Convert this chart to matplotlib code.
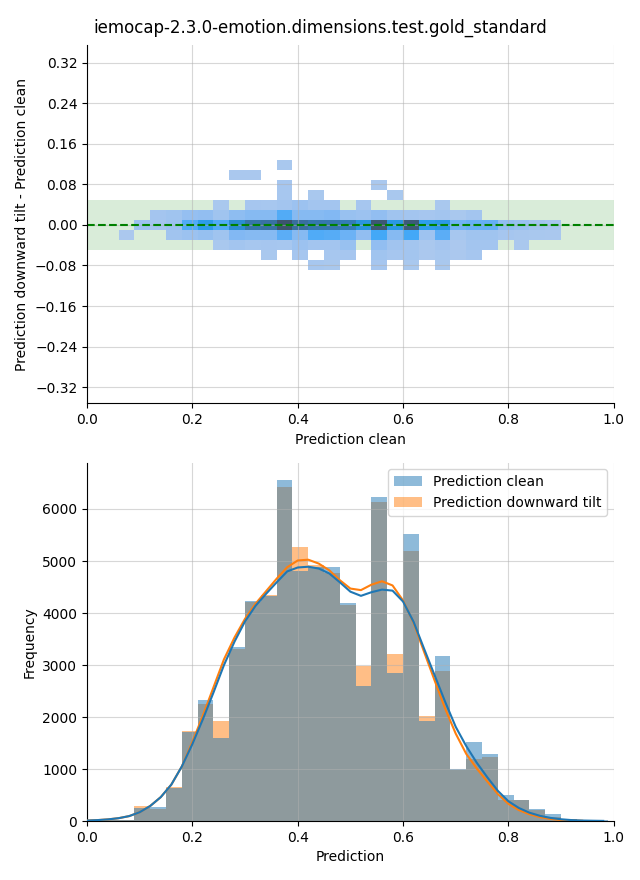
import numpy as np
import pandas as pd
import matplotlib
matplotlib.use('Agg')
import matplotlib.pyplot as plt
import seaborn as sns

title = 'iemocap-2.3.0-emotion.dimensions.test.gold_standard'
series = ['Prediction clean', 'Prediction downward tilt']

# prediction bins, 0.03 wide from 0 to 0.99
pred_edges = np.round(np.arange(34) * 0.03, 4)

# counts per prediction bin
clean_counts = [15, 15, 20, 244, 263, 630, 1709, 2332, 1600, 3347, 4233, 4330,
                6565, 4799, 4882, 4889, 4195, 2595, 6238, 2846, 5525, 1927,
                3173, 1000, 1516, 1285, 500, 410, 225, 141, 35, 25, 15]
tilt_counts = [15, 15, 20, 283, 225, 649, 1728, 2248, 1921, 3308, 4214, 4349,
               6430, 5274, 4927, 4773, 4156, 2987, 6141, 3212, 5197, 2017,
               2884, 990, 1195, 1233, 410, 400, 210, 77, 30, 20, 10]

kde_x = np.round(np.arange(50) * 0.02, 2)
kde_clean = [10, 18, 32, 55, 95, 170, 290, 460, 700, 1050,
             1480, 1960, 2470, 3000, 3450, 3840, 4140, 4370, 4590, 4800,
             4875, 4890, 4855, 4760, 4590, 4410, 4330, 4400, 4450, 4430,
             4220, 3830, 3310, 2800, 2290, 1810, 1440, 1120, 840, 580,
             380, 250, 160, 100, 60, 34, 18, 10, 6, 3]
kde_tilt = [10, 18, 32, 55, 95, 170, 290, 460, 700, 1050,
            1520, 2030, 2570, 3110, 3530, 3890, 4180, 4420, 4660, 4880,
            5010, 5025, 4950, 4820, 4630, 4470, 4440, 4545, 4610, 4530,
            4240, 3810, 3250, 2700, 2160, 1680, 1290, 1010, 760, 520,
            330, 210, 130, 75, 40, 20, 10, 5]

# 2d histogram: columns = clean bins 2..29 (0.06 - 0.90),
# rows = difference bins centred on k * 0.0196, k = 6 (top) ... -4 (bottom)
diff_steps = [6, 5, 4, 3, 2, 1, 0, -1, -2, -3, -4]
diff_rows = [
    [0, 0, 0, 0, 0, 0, 0, 0, 0, 0, 60, 0, 0, 0, 0, 0, 0, 0, 0, 0, 0, 0, 0, 0, 0, 0, 0, 0],
    [0, 0, 0, 0, 0, 0, 0, 40, 40, 0, 0, 0, 0, 0, 0, 0, 0, 0, 0, 0, 0, 0, 0, 0, 0, 0, 0, 0],
    [0, 0, 0, 0, 0, 0, 0, 0, 0, 0, 100, 0, 0, 0, 0, 0, 40, 0, 0, 0, 0, 0, 0, 0, 0, 0, 0, 0],
    [0, 0, 0, 0, 0, 0, 0, 0, 0, 0, 80, 0, 50, 0, 0, 0, 0, 60, 0, 0, 0, 0, 0, 0, 0, 0, 0, 0],
    [0, 0, 0, 0, 0, 0, 50, 0, 100, 80, 150, 250, 150, 150, 0, 100, 0, 0, 0, 0, 60, 0, 0, 0, 0, 0, 0, 0],
    [0, 0, 130, 200, 350, 400, 200, 450, 550, 550, 1080, 550, 550, 600, 300, 250, 400, 200, 150, 100, 150, 60, 150, 0, 0, 0, 0, 0],
    [0, 244, 133, 250, 1100, 1600, 1100, 2100, 2900, 3000, 4000, 3100, 2800, 2800, 2650, 1850, 3900, 1750, 3800, 1550, 1700, 800, 900, 935, 400, 300, 170, 100],
    [20, 0, 0, 180, 260, 330, 200, 600, 550, 550, 1000, 550, 1100, 1050, 850, 400, 1200, 550, 1200, 220, 1000, 80, 200, 200, 95, 70, 50, 35],
    [0, 0, 0, 0, 0, 0, 50, 150, 90, 100, 90, 250, 150, 150, 300, 0, 400, 180, 150, 40, 130, 30, 150, 150, 0, 40, 0, 0],
    [0, 0, 0, 0, 0, 0, 0, 0, 0, 50, 0, 100, 0, 80, 100, 0, 200, 100, 150, 20, 80, 30, 100, 0, 0, 0, 0, 0],
    [0, 0, 0, 0, 0, 0, 0, 0, 0, 0, 0, 0, 80, 60, 0, 0, 100, 0, 60, 0, 50, 0, 0, 0, 0, 0, 0, 0],
]
diff_step = 0.0196

# long form tables for seaborn
pred_centers = (pred_edges[:-1] + pred_edges[1:]) / 2
df_hist = pd.DataFrame({
    'pred': np.concatenate([pred_centers, pred_centers]),
    'count': clean_counts + tilt_counts,
    'series': [series[0]] * len(clean_counts) + [series[1]] * len(tilt_counts),
})

x2_edges = pred_edges[2:31]
x2_centers = (x2_edges[:-1] + x2_edges[1:]) / 2
steps = np.array(sorted(diff_steps))
y2_edges = np.append(steps - 0.5, steps[-1] + 0.5) * diff_step
cells = np.array(diff_rows)[::-1]  # bottom row first
yy, xx = np.meshgrid(steps * diff_step, x2_centers, indexing='ij')
df_2d = pd.DataFrame({'x': xx.ravel(), 'y': yy.ravel(), 'w': cells.ravel()})
df_2d = df_2d[df_2d['w'] > 0]

fig, (ax1, ax2) = plt.subplots(2, 1, figsize=(6.4, 8.8))
fig.subplots_adjust(left=0.136, right=0.959, top=0.949, bottom=0.067, hspace=0.165)
fig.suptitle(title, fontsize=12, y=0.979)

# top: difference vs clean prediction
ax1.axhspan(-0.05, 0.05, color='green', alpha=0.15, lw=0, zorder=0)
sns.histplot(data=df_2d, x='x', y='y', weights='w',
             bins=[list(x2_edges), list(y2_edges)], color='C0', ax=ax1)
ax1.axhline(0, color='green', ls='--', lw=1.5)
ax1.set_xlim(0, 1)
ax1.set_ylim(-0.352, 0.355)
ax1.set_yticks(np.arange(-4, 5) * 0.08)
ax1.set_xlabel('Prediction clean')
ax1.set_ylabel('Prediction downward tilt - Prediction clean')
ax1.grid(True, alpha=0.5)

# bottom: both prediction histograms with kde
sns.histplot(data=df_hist, x='pred', hue='series', hue_order=series, weights='count',
             bins=list(pred_edges), alpha=0.5, linewidth=0, ax=ax2)
ax2.plot(kde_x[:len(kde_tilt)], kde_tilt, color='C1', lw=1.5, zorder=3)
ax2.plot(kde_x, kde_clean, color='C0', lw=1.5, zorder=3)
ax2.set_xlim(0, 1)
ax2.set_xlabel('Prediction')
ax2.set_ylabel('Frequency')
ax2.grid(True, alpha=0.5)
sns.move_legend(ax2, 'upper right', title=None)

sns.despine(ax=ax1)
sns.despine(ax=ax2)

fig.savefig('out.png', dpi=100)
